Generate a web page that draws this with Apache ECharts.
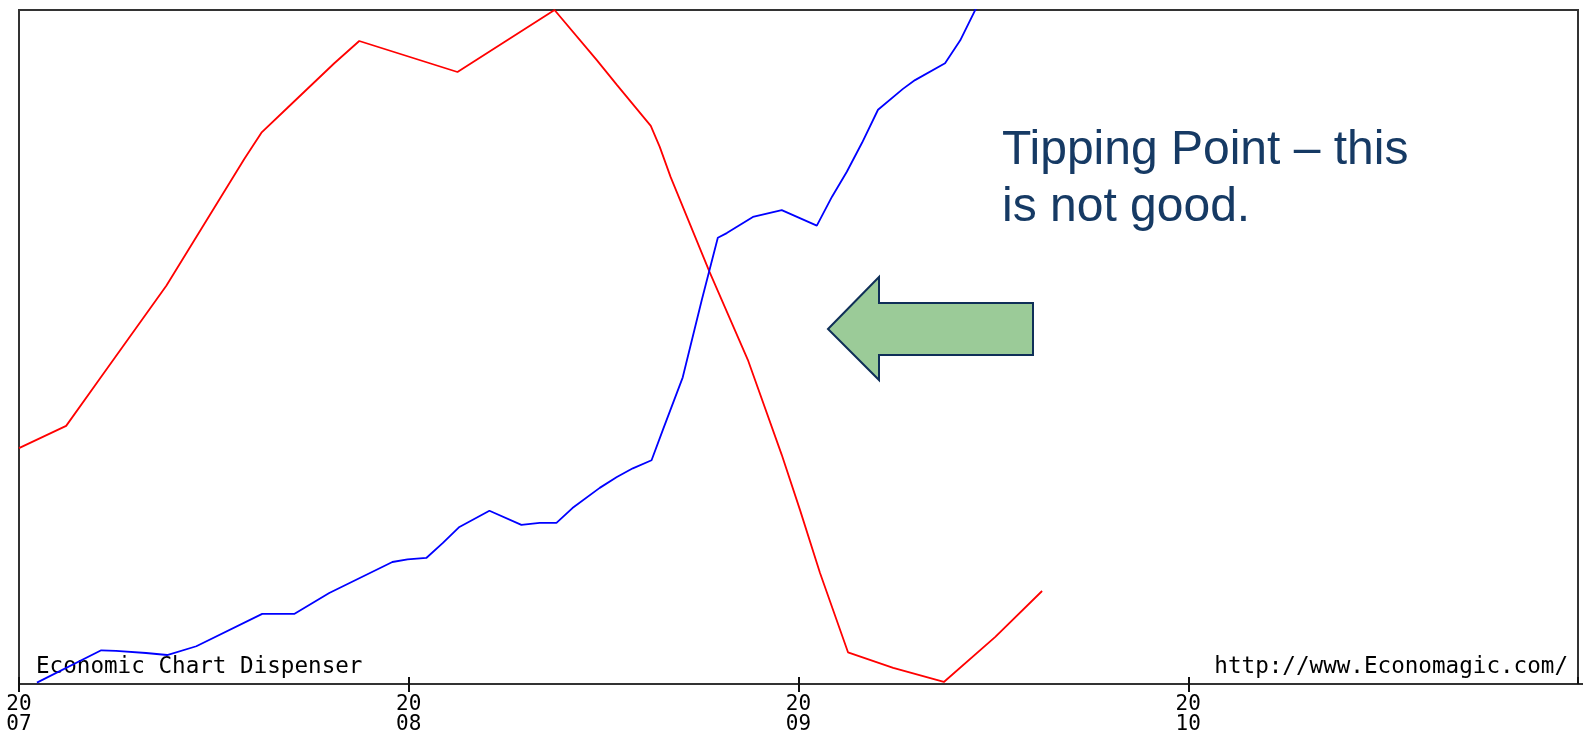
<!DOCTYPE html>
<html lang="en">
<head>
    <meta charset="UTF-8">
    <title>Tipping Point</title>
    <script src="https://cdn.jsdelivr.net/npm/echarts@6/dist/echarts.min.js"></script>
    <style>
        html, body { margin: 0; padding: 0; background: #fff; }
    </style>
</head>
<body>
<div id="main" style="width: 1583px;height:737px;"></div>
<script type="text/javascript">
    // values, x in decimal years, y as index (0 = bottom, 100 = top of frame)
    var redYears = [2007.000, 2007.121, 2007.205, 2007.378, 2007.578, 2007.622, 2007.689, 2007.809, 2007.873,
        2008.125, 2008.374, 2008.482, 2008.534, 2008.621, 2008.644, 2008.672, 2008.772, 2008.870,
        2008.957, 2009.004, 2009.055, 2009.127, 2009.243, 2009.373, 2009.505, 2009.625];
    var redValues = [35.0, 38.3, 45.1, 59.1, 77.9, 81.8, 85.5, 92.1, 95.4,
        90.8, 100, 92.6, 88.9, 82.8, 79.7, 75.2, 61.1, 48.1,
        34.0, 25.8, 16.5, 4.7, 2.4, 0.3, 7.0, 13.8];

    var blueYears = [2007.046, 2007.211, 2007.249, 2007.326, 2007.380, 2007.455, 2007.624, 2007.706, 2007.796,
        2007.958, 2007.997, 2008.045, 2008.087, 2008.130, 2008.207, 2008.289, 2008.336, 2008.379,
        2008.420, 2008.490, 2008.534, 2008.575, 2008.623, 2008.652, 2008.703, 2008.752, 2008.793,
        2008.816, 2008.883, 2008.957, 2009.047, 2009.086, 2009.124, 2009.163, 2009.204, 2009.268,
        2009.299, 2009.376, 2009.415, 2009.456];
    var blueValues = [0.2, 5.0, 4.9, 4.6, 4.3, 5.6, 10.4, 10.4, 13.5,
        18.1, 18.5, 18.7, 20.9, 23.3, 25.7, 23.6, 23.9, 23.9,
        26.1, 29.1, 30.7, 32.0, 33.2, 37.7, 45.5, 57.0, 66.2,
        66.9, 69.3, 70.3, 68.0, 72.3, 76.0, 80.3, 85.2, 88.3,
        89.6, 92.1, 95.5, 100.3];

    var yearTicks = [2007, 2008, 2009, 2010];
    var tickLabels = ['20\n07', '20\n08', '20\n09', '20\n10'];

    function pairs(xs, ys) {
        var out = [];
        for (var i = 0; i < xs.length; i++) out.push([xs[i], ys[i]]);
        return out;
    }

    var myChart = echarts.init(document.getElementById('main'));
    myChart.setOption({
        animation: false,
        grid: {
            show: true,
            left: 19,
            right: 5,
            top: 10,
            bottom: 53,
            borderColor: '#333',
            borderWidth: 2
        },
        xAxis: [{
            type: 'value',
            min: 2007,
            max: 2011,
            interval: 1,
            splitLine: {show: false},
            axisLine: {lineStyle: {color: '#333', width: 2}},
            axisTick: {length: 8, lineStyle: {color: '#111', width: 2}},
            axisLabel: {
                showMaxLabel: false,
                margin: 11,
                color: '#000',
                fontFamily: 'DejaVu Sans Mono',
                fontSize: 21,
                lineHeight: 20,
                formatter: function (v) {
                    var i = yearTicks.indexOf(v);
                    return i < 0 ? '' : tickLabels[i];
                }
            }
        }, {
            // second axis only for the part of each tick that sits inside the frame
            type: 'value',
            min: 2007,
            max: 2011,
            interval: 1,
            position: 'bottom',
            splitLine: {show: false},
            axisLine: {show: false},
            axisTick: {inside: true, length: 7, lineStyle: {color: '#111', width: 2}},
            axisLabel: {show: false}
        }],
        yAxis: {
            type: 'value',
            min: 0,
            max: 100,
            show: false
        },
        series: [{
            name: 'red',
            type: 'line',
            showSymbol: false,
            clip: true,
            data: pairs(redYears, redValues),
            lineStyle: {color: '#ff0000', width: 1.8}
        }, {
            name: 'blue',
            type: 'line',
            showSymbol: false,
            clip: true,
            data: pairs(blueYears, blueValues),
            lineStyle: {color: '#0000ff', width: 1.8}
        }],
        graphic: [{
            type: 'line',
            shape: {x1: 1578, y1: 684, x2: 1583, y2: 684},
            style: {stroke: '#333', lineWidth: 2}
        }, {
            type: 'text',
            x: 36,
            y: 667,
            style: {
                text: 'Economic Chart Dispenser',
                fontFamily: 'DejaVu Sans Mono',
                fontSize: 22.6,
                fill: '#000',
                verticalAlign: 'middle'
            }
        }, {
            type: 'text',
            x: 1568,
            y: 667,
            style: {
                text: 'http://www.Economagic.com/',
                fontFamily: 'DejaVu Sans Mono',
                fontSize: 22.6,
                fill: '#000',
                align: 'right',
                verticalAlign: 'middle'
            }
        }, {
            type: 'text',
            x: 1002,
            y: 122,
            style: {
                text: 'Tipping Point \u2013 this\nis not good.',
                fontFamily: 'Liberation Sans, Arial, sans-serif',
                fontSize: 48,
                lineHeight: 57,
                fill: '#163a64',
                verticalAlign: 'top'
            }
        }, {
            type: 'polygon',
            shape: {
                points: [[828, 329], [879, 277], [879, 303], [1033, 303],
                    [1033, 355], [879, 355], [879, 380]]
            },
            style: {fill: '#9bcb98', stroke: '#0f2f58', lineWidth: 2}
        }]
    });
</script>
</body>
</html>
